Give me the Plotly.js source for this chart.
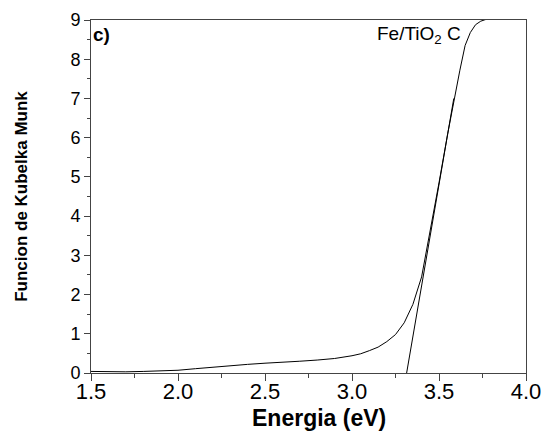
<!DOCTYPE html>
<html>
<head>
<meta charset="utf-8">
<script src="https://cdn.plot.ly/plotly-3.0.1.min.js"></script>
<style>html,body{margin:0;padding:0;background:#fff;}#chart{width:544px;height:435px;}</style>
</head>
<body>
<div id="chart"></div>
<script>
// Kubelka-Munk curve
const energy = [1.5, 1.6, 1.7, 1.8, 1.9, 2.0, 2.1, 2.2, 2.3, 2.4, 2.5, 2.6, 2.7, 2.8, 2.9, 3.0, 3.05, 3.1, 3.15, 3.2, 3.25, 3.3, 3.35, 3.4, 3.45, 3.5, 3.55, 3.6, 3.62, 3.65, 3.68, 3.71, 3.74, 3.76, 3.78];
const kubelka = [0.04, 0.03, 0.03, 0.04, 0.05, 0.07, 0.11, 0.15, 0.19, 0.22, 0.25, 0.27, 0.30, 0.33, 0.37, 0.44, 0.49, 0.57, 0.66, 0.80, 0.98, 1.28, 1.75, 2.45, 3.6, 4.85, 6.1, 7.3, 7.72, 8.35, 8.68, 8.88, 8.97, 9.0, 9.03];
// Tangent (band-gap extrapolation) line
const tangentE = [3.314, 3.585];
const tangentY = [0, 7.0];
const xTicks = [1.5, 2.0, 2.5, 3.0, 3.5, 4.0];
const xTickText = ["1.5", "2.0", "2.5", "3.0", "3.5", "4.0"];
const yTicks = [0, 1, 2, 3, 4, 5, 6, 7, 8, 9];

const font = "Liberation Sans, Arial, sans-serif";
const traces = [
  {x: energy, y: kubelka, mode: "lines", line: {color: "#000", width: 1}, hoverinfo: "none"},
  {x: tangentE, y: tangentY, mode: "lines", line: {color: "#000", width: 1}, hoverinfo: "none"}
];
const axisCommon = {
  showline: true, linecolor: "#444", linewidth: 1, mirror: true,
  ticks: "outside", ticklen: 6, tickwidth: 1, tickcolor: "#444",
  showgrid: false, zeroline: false
};
const layout = {
  width: 544, height: 435,
  margin: {l: 91, r: 18, t: 20, b: 62},
  paper_bgcolor: "#fff", plot_bgcolor: "#fff",
  showlegend: false,
  xaxis: Object.assign({}, axisCommon, {
    range: [1.5, 4.0], tickvals: xTicks, ticktext: xTickText, ticklen: 7,
    tickfont: {family: font, size: 22, color: "#000"}, ticklabelstandoff: -8,
    minor: {dtick: 0.25, tick0: 1.5, ticks: "outside", ticklen: 4, tickcolor: "#444", showgrid: false}
  }),
  yaxis: Object.assign({}, axisCommon, {
    range: [0, 9], tickvals: yTicks,
    tickfont: {family: font, size: 18, color: "#000"},
    minor: {dtick: 0.5, tick0: 0, ticks: "outside", ticklen: 3, tickcolor: "#444", showgrid: false},
    title: {text: "<b>Funcion de Kubelka Munk</b>", font: {family: font, size: 17, color: "#000"}, standoff: 38}
  }),
  annotations: [
    {xref: "paper", yref: "paper", x: 0.524, y: -0.128, xanchor: "center", yanchor: "middle", showarrow: false,
     text: "<b>Energia (eV)</b>", font: {family: font, size: 23, color: "#000"}},
    {xref: "paper", yref: "paper", x: 0.0, y: 0.994, xanchor: "left", yanchor: "top", showarrow: false,
     text: "<b>c)</b>", font: {family: font, size: 19, color: "#000"}},
    {xref: "x", yref: "y", x: 3.64, y: 8.62, xanchor: "right", yanchor: "middle", showarrow: false,
     text: "Fe/TiO<sub>2</sub> C", font: {family: font, size: 19, color: "#000"}}
  ]
};
Plotly.newPlot("chart", traces, layout, {staticPlot: true, displayModeBar: false});
</script>
</body>
</html>
